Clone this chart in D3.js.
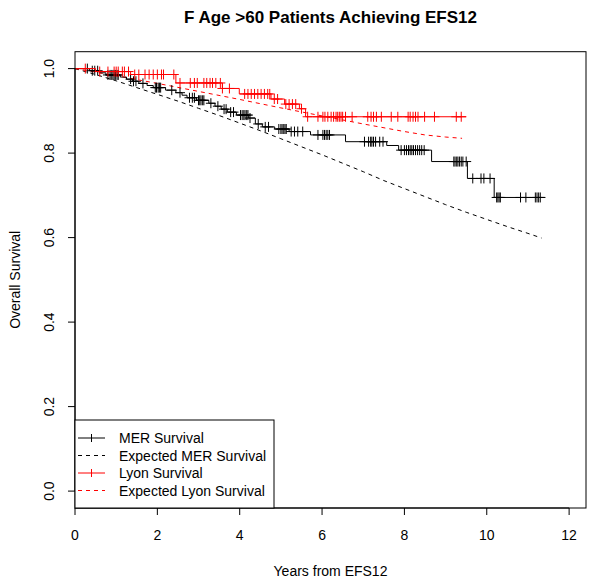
<!DOCTYPE html>
<html>
<head>
<meta charset="utf-8">
<script src="https://cdn.jsdelivr.net/npm/d3@7"></script>
<style>
  html, body { margin: 0; padding: 0; background: #fff; }
  svg { display: block; font-family: "Liberation Sans", Arial, sans-serif; }
</style>
</head>
<body>
<svg id="chart" width="604" height="584"></svg>
<script>
// ---------- data ----------
const chartTitle = "F Age >60 Patients Achieving EFS12";
const xTitle = "Years from EFS12";
const yTitle = "Overall Survival";
const xTicks = [0, 2, 4, 6, 8, 10, 12];
const yTicks = [0.0, 0.2, 0.4, 0.6, 0.8, 1.0];
const legendLabels = ["MER Survival", "Expected MER Survival", "Lyon Survival", "Expected Lyon Survival"];

// MER Kaplan-Meier: drop times and survival after each drop
const merDropTimes = [0.35, 0.6, 0.75, 1.1, 1.25, 1.4, 1.55, 1.75, 1.9, 2.2, 2.45, 2.6, 2.72, 2.95, 3.25, 3.4, 3.55, 3.7, 3.92, 4.22, 4.38, 4.55, 4.85, 5.2, 5.72, 6.57, 7.57, 7.86, 8.66, 9.53, 10.18];
const merDropSurv  = [0.995, 0.99, 0.985, 0.98, 0.975, 0.97, 0.965, 0.96, 0.955, 0.949, 0.943, 0.937, 0.931, 0.925, 0.918, 0.911, 0.904, 0.897, 0.89, 0.883, 0.869, 0.862, 0.857, 0.851, 0.843, 0.827, 0.818, 0.807, 0.780, 0.740, 0.695];
const merEnd = 11.42;
const merCensor = [0.3, 0.42, 0.48, 0.55, 0.8, 0.85, 0.88, 0.92, 0.95, 0.98, 1.02, 1.05, 1.35, 1.42, 1.48, 1.65, 1.95, 1.98, 2.02, 2.05, 2.08, 2.35, 2.55, 2.78, 2.85, 2.9, 3.0, 3.03, 3.06, 3.1, 3.13, 3.3, 3.47, 3.62, 3.67, 3.78, 3.85, 4.02, 4.06, 4.1, 4.13, 4.17, 4.2, 4.25, 4.45, 4.62, 4.7, 4.95, 5.0, 5.03, 5.07, 5.1, 5.13, 5.25, 5.33, 5.41, 5.53, 5.9, 6.02, 6.06, 6.1, 6.14, 6.18, 7.03, 7.13, 7.18, 7.21, 7.25, 7.3, 7.4, 7.48, 7.92, 8.0, 8.05, 8.1, 8.14, 8.18, 8.22, 8.27, 8.32, 8.37, 8.42, 8.48, 9.2, 9.23, 9.27, 9.3, 9.34, 9.38, 9.42, 9.5, 9.66, 9.86, 9.93, 10.08, 10.24, 10.27, 10.3, 10.33, 10.82, 10.95, 11.18, 11.22, 11.26, 11.3];

// Lyon Kaplan-Meier
const lyonDropTimes = [0.5, 1.35, 2.45, 3.58, 3.99, 4.76, 5.09, 5.45, 5.6];
const lyonDropSurv  = [0.993, 0.986, 0.966, 0.953, 0.94, 0.928, 0.916, 0.905, 0.886];
const lyonEnd = 9.5;
const lyonCensor = [0.25, 0.6, 0.8, 0.95, 1.0, 1.05, 1.15, 1.2, 1.3, 1.45, 1.55, 1.7, 1.8, 1.9, 2.0, 2.1, 2.15, 2.4, 2.55, 2.8, 2.9, 2.97, 3.13, 3.2, 3.28, 3.34, 3.42, 3.53, 3.58, 3.75, 4.12, 4.2, 4.28, 4.36, 4.44, 4.52, 4.6, 4.68, 4.73, 4.84, 4.92, 5.12, 5.2, 5.28, 5.36, 5.5, 5.65, 5.9, 6.02, 6.07, 6.14, 6.22, 6.28, 6.34, 6.38, 6.42, 6.46, 6.5, 6.57, 6.73, 7.11, 7.19, 7.25, 7.32, 7.44, 7.68, 7.84, 8.09, 8.14, 8.21, 8.27, 8.33, 8.49, 8.73, 9.26, 9.38];

// Expected survival curves
const expMerTimes = [0, 0.5, 1, 1.5, 2, 2.5, 3, 3.5, 4, 4.5, 5, 5.5, 6, 6.5, 7, 7.5, 8, 8.5, 9, 9.5, 10, 10.5, 11, 11.33];
const expMerSurv  = [1, 0.986, 0.971, 0.955, 0.939, 0.923, 0.906, 0.889, 0.871, 0.853, 0.834, 0.815, 0.796, 0.776, 0.756, 0.735, 0.716, 0.697, 0.678, 0.66, 0.643, 0.626, 0.61, 0.599];
const expLyonTimes = [0, 1, 2, 3, 4, 5, 6, 7, 8, 8.5, 9, 9.4];
const expLyonSurv  = [1, 0.983, 0.965, 0.946, 0.927, 0.907, 0.888, 0.869, 0.851, 0.843, 0.838, 0.835];

// ---------- drawing ----------
const svg = d3.select("#chart");
const pLeft = 75, pRight = 586, pTop = 51.7, pBottom = 508;
const x = d3.scaleLinear().domain([0, 12.41]).range([pLeft, pRight]);
const y = d3.scaleLinear().domain([-0.04, 1.04]).range([pBottom, pTop]);

function kmPoints(times, surv, end) {
  const pts = [[0, 1]];
  times.forEach((t, i) => pts.push([t, surv[i]]));
  pts.push([end, surv[surv.length - 1]]);
  return pts;
}
function survAt(times, surv, t) {
  let s = 1;
  for (let i = 0; i < times.length; i++) if (times[i] <= t) s = surv[i];
  return s;
}

const stepLine = d3.line().x(d => x(d[0])).y(d => y(d[1])).curve(d3.curveStepAfter);
const smoothLine = d3.line().x(d => x(d[0])).y(d => y(d[1]));

const plot = svg.append("g");

// expected curves
plot.append("path")
  .attr("d", smoothLine(expMerTimes.map((t, i) => [t, expMerSurv[i]])))
  .attr("fill", "none").attr("stroke", "#000").attr("stroke-width", 1).attr("stroke-dasharray", "4,4");
plot.append("path")
  .attr("d", smoothLine(expLyonTimes.map((t, i) => [t, expLyonSurv[i]])))
  .attr("fill", "none").attr("stroke", "#ff0000").attr("stroke-width", 1).attr("stroke-dasharray", "4,4");

// KM curves
function drawKM(times, surv, end, censor, color) {
  plot.append("path")
    .attr("d", stepLine(kmPoints(times, surv, end)))
    .attr("fill", "none").attr("stroke", color).attr("stroke-width", 1);
  const g = plot.append("g").attr("stroke", color).attr("stroke-width", 1);
  const ms = 5;
  censor.forEach(t => {
    const cx = x(t), cy = y(survAt(times, surv, t));
    g.append("line").attr("x1", cx).attr("x2", cx).attr("y1", cy - ms).attr("y2", cy + ms);
    g.append("line").attr("x1", cx - ms).attr("x2", cx + ms).attr("y1", cy).attr("y2", cy);
  });
}
drawKM(merDropTimes, merDropSurv, merEnd, merCensor, "#000");
drawKM(lyonDropTimes, lyonDropSurv, lyonEnd, lyonCensor, "#ff0000");

// box
svg.append("rect").attr("x", pLeft).attr("y", pTop).attr("width", pRight - pLeft).attr("height", pBottom - pTop)
  .attr("fill", "none").attr("stroke", "#000").attr("stroke-width", 1);

// x axis
const xa = svg.append("g");
xa.append("line").attr("x1", x(xTicks[0])).attr("x2", x(xTicks[xTicks.length - 1]))
  .attr("y1", pBottom).attr("y2", pBottom).attr("stroke", "#000");
xa.selectAll(".xt").data(xTicks).enter().append("line")
  .attr("x1", d => x(d)).attr("x2", d => x(d)).attr("y1", pBottom).attr("y2", pBottom + 7).attr("stroke", "#000");
xa.selectAll(".xl").data(xTicks).enter().append("text")
  .attr("x", d => x(d)).attr("y", 540).attr("text-anchor", "middle")
  .attr("font-size", 14).attr("fill", "#000").text(d => d);

// y axis
const ya = svg.append("g");
ya.append("line").attr("x1", pLeft).attr("x2", pLeft)
  .attr("y1", y(yTicks[0])).attr("y2", y(yTicks[yTicks.length - 1])).attr("stroke", "#000");
ya.selectAll(".yt").data(yTicks).enter().append("line")
  .attr("x1", pLeft - 7).attr("x2", pLeft).attr("y1", d => y(d)).attr("y2", d => y(d)).attr("stroke", "#000");
ya.selectAll(".yl").data(yTicks).enter().append("text")
  .attr("transform", d => `translate(54,${y(d)}) rotate(-90)`)
  .attr("text-anchor", "middle").attr("font-size", 14).attr("fill", "#000")
  .text(d => d.toFixed(1));

// titles
svg.append("text").attr("x", (pLeft + pRight) / 2).attr("y", 23).attr("text-anchor", "middle")
  .attr("font-size", 17).attr("font-weight", "bold").attr("fill", "#000").text(chartTitle);
svg.append("text").attr("x", (pLeft + pRight) / 2).attr("y", 576).attr("text-anchor", "middle")
  .attr("font-size", 14).attr("fill", "#000").text(xTitle);
svg.append("text").attr("transform", `translate(20,${(pTop + pBottom) / 2}) rotate(-90)`)
  .attr("text-anchor", "middle").attr("font-size", 14).attr("fill", "#000").text(yTitle);

// legend
const legColors = ["#000", "#000", "#ff0000", "#ff0000"];
const legDash = [null, "4,4", null, "4,4"];
const legMark = [true, false, true, false];
const lg = svg.append("g");
lg.append("rect").attr("x", pLeft).attr("y", 420).attr("width", 274 - pLeft).attr("height", pBottom - 420)
  .attr("fill", "#fff").attr("stroke", "#000").attr("stroke-width", 1);
legendLabels.forEach((lab, i) => {
  const ly = 438 + i * 17.5;
  lg.append("line").attr("x1", 78).attr("x2", 105).attr("y1", ly).attr("y2", ly)
    .attr("stroke", legColors[i]).attr("stroke-dasharray", legDash[i]);
  if (legMark[i]) {
    lg.append("line").attr("x1", 91.5).attr("x2", 91.5).attr("y1", ly - 4).attr("y2", ly + 4).attr("stroke", legColors[i]);
  }
  lg.append("text").attr("x", 119).attr("y", ly + 5).attr("font-size", 14).attr("fill", "#000").text(lab);
});
</script>
</body>
</html>
